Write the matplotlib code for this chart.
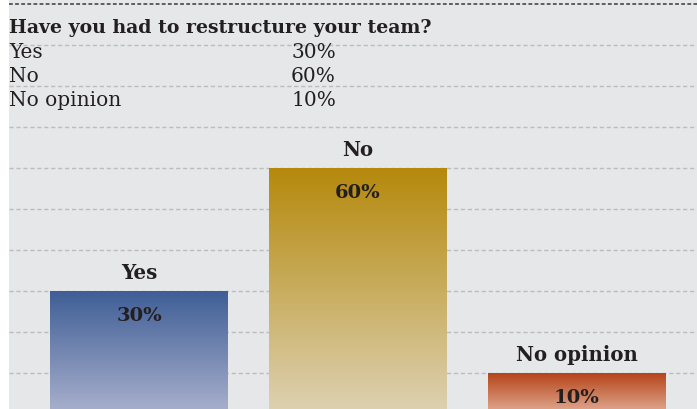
import matplotlib
matplotlib.use("Agg")
import matplotlib.pyplot as plt
import numpy as np
from matplotlib.colors import LinearSegmentedColormap

title = "Have you had to restructure your team?"
categories = ["Yes", "No", "No opinion"]
values = [30, 60, 10]
value_labels = ["30%", "60%", "10%"]
top_colors = ["#3f5e96", "#b5890c", "#b5441a"]
bottom_colors = ["#aab1cd", "#ddd2b4", "#e3ae96"]

W, H = 697, 410
fig = plt.figure(figsize=(W / 100, H / 100), dpi=100, facecolor="white")

BG = "#e6e7e9"
# axes: x from 9 px to 697 px; y baseline at 415 px from top, 4.1 px per %
x0 = 9
base_px = 415
ppu = 4.1
ax_bottom = (H - base_px) / H
ax_height_px = base_px  # up to top of figure
ax = fig.add_axes([x0 / W, ax_bottom, (W - x0) / W, ax_height_px / H])
ax.set_facecolor(BG)
spacing = 219
xl = -(139 - x0) / spacing
xr = (W - 139) / spacing
for s in ax.spines.values():
    s.set_visible(False)
ax.set_xticks([])
ax.set_yticks([])

# gridlines
for g in range(10, 100, 10):
    ax.axhline(g, color="#bcbcbe", lw=1.0, ls=(0, (3, 2)), zorder=1)
ax.axhline(100, color="#3a3a3a", lw=1.1, ls=(0, (2.5, 1.5)), zorder=1)

width = 178 / spacing
bold_font = dict(family="DejaVu Serif", fontweight="bold")
for i, (cat, v, lab, tc, bc) in enumerate(zip(categories, values, value_labels, top_colors, bottom_colors)):
    cmap = LinearSegmentedColormap.from_list(f"g{i}", [bc, tc])
    grad = np.linspace(0, 1, 256).reshape(-1, 1)
    ax.imshow(grad, cmap=cmap, aspect="auto", origin="lower",
              extent=[i - width / 2, i + width / 2, 0, v], zorder=2)
    ax.annotate(cat, (i, v), xytext=(0, 9), textcoords="offset pixels",
                ha="center", va="bottom", fontsize=14.2, color="#231f20", zorder=4, **bold_font)
    ax.annotate(lab, (i, v), xytext=(0, -24), textcoords="offset pixels",
                ha="center", va="center", fontsize=14, color="#231f20", zorder=4, **bold_font)
ax.set_xlim(xl, xr)
ax.set_ylim(0, base_px / ppu)

# title and table
fig.text(9 / W, 1 - 33 / H, title, ha="left", va="baseline", fontsize=13.6,
         color="#231f20", family="DejaVu Serif", fontweight="bold")
row_base = [58, 82, 106]
for cat, lab, yb in zip(categories, value_labels, row_base):
    fig.text(9 / W, 1 - yb / H, cat, ha="left", va="baseline", fontsize=14.5,
             color="#231f20", family="DejaVu Serif")
    fig.text(336 / W, 1 - yb / H, lab, ha="right", va="baseline", fontsize=14.5,
             color="#231f20", family="DejaVu Serif")

fig.savefig("out.png", dpi=100, facecolor="white")
